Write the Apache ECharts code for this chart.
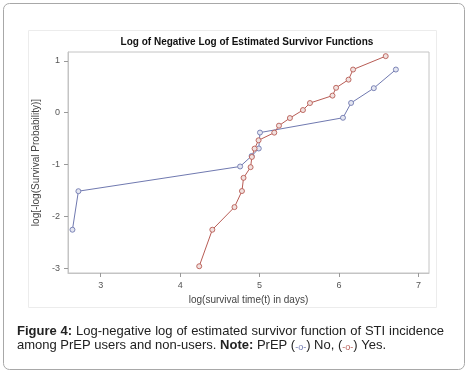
<!DOCTYPE html>
<html>
<head>
<meta charset="utf-8">
<script src="https://cdn.jsdelivr.net/npm/echarts@6/dist/echarts.min.js"></script>
<style>
  html, body { margin: 0; padding: 0; background: #fff; }
  #main { width: 469px; height: 376px; }
</style>
</head>
<body>
<div id="main"></div>
<script>
// PrEP = No (blue)
const noX = [2.644, 2.719, 4.755, 4.900, 4.990, 5.005, 6.050, 6.152, 6.438, 6.716];
const noY = [-2.256, -1.513, -1.037, -0.835, -0.690, -0.383, -0.098, 0.188, 0.473, 0.832];
// PrEP = Yes (red)
const yesX = [4.240, 4.405, 4.684, 4.778, 4.798, 4.887, 4.903, 4.937, 4.987, 5.185,
              5.244, 5.382, 5.546, 5.634, 5.918, 5.963, 6.120, 6.177, 6.588];
const yesY = [-2.960, -2.256, -1.820, -1.510, -1.256, -1.050, -0.853, -0.692, -0.532, -0.385,
              -0.250, -0.103, 0.051, 0.186, 0.329, 0.480, 0.637, 0.832, 1.090];
const xTicks = [3, 4, 5, 6, 7];
const yTicks = [-3, -2, -1, 0, 1];

const chartTitle = 'Log of Negative Log of Estimated Survivor Functions';
const captionLine1 = ['Figure', '4:', 'Log-negative', 'log', 'of', 'estimated', 'survivor', 'function', 'of', 'STI', 'incidence'];
const blue = '#7079b0';
const red = '#b85c55';

const chart = echarts.init(document.getElementById('main'));

// Justify the first caption line by hand
const FONT = 'Liberation Sans, Arial, sans-serif';
const ctx = document.createElement('canvas').getContext('2d');
const capLeft = 17, capRight = 444, capSize = 13;
const wordWidths = captionLine1.map((w, i) => {
  ctx.font = (i < 2 ? 'bold ' : '') + capSize + 'px ' + FONT;
  return ctx.measureText(w).width;
});
const gap = (capRight - capLeft - wordWidths.reduce((a, b) => a + b, 0)) / (captionLine1.length - 1);
const captionWords = [];
let cx = capLeft;
captionLine1.forEach((w, i) => {
  captionWords.push({
    type: 'text', left: cx, top: 325,
    style: { text: w, font: (i < 2 ? 'bold ' : '') + capSize + 'px ' + FONT, fill: '#222' }
  });
  cx += wordWidths[i] + gap;
});

const axisLabelStyle = { color: '#555', fontSize: 9, fontFamily: FONT, margin: 8 };
const axisNameStyle = { color: '#444', fontSize: 10, fontFamily: FONT };

const option = {
  animation: false,
  title: {
    text: chartTitle,
    left: 247, top: 37, padding: 0, textAlign: 'center',
    textStyle: { fontSize: 10, fontWeight: 'bold', color: '#111', fontFamily: FONT }
  },
  grid: {
    left: 68, right: 40, top: 52, bottom: 103,
    show: true, borderColor: '#c4c4c4', borderWidth: 1, backgroundColor: '#fff'
  },
  xAxis: {
    type: 'value', min: 2.588, max: 7.133,
    axisLine: { show: true, onZero: false, lineStyle: { color: '#c4c4c4' } },
    axisTick: { show: true, length: 4, lineStyle: { color: '#999' }, customValues: xTicks },
    axisLabel: Object.assign({}, axisLabelStyle, { customValues: xTicks }),
    splitLine: { show: false },
    name: 'log(survival time(t) in days)',
    nameLocation: 'middle', nameGap: 20, nameTextStyle: axisNameStyle
  },
  yAxis: {
    type: 'value', min: -3.09, max: 1.17,
    axisLine: { show: true, onZero: false, lineStyle: { color: '#c4c4c4' } },
    axisTick: { show: true, length: 4, lineStyle: { color: '#999' }, customValues: yTicks },
    axisLabel: Object.assign({}, axisLabelStyle, { customValues: yTicks }),
    splitLine: { show: false },
    name: 'log[-log(Survival Probability)]',
    nameLocation: 'middle', nameGap: 27, nameTextStyle: axisNameStyle
  },
  series: [
    {
      name: 'No', type: 'line',
      data: noX.map((x, i) => [x, noY[i]]),
      symbol: 'circle', symbolSize: 5,
      lineStyle: { color: blue, width: 1 },
      itemStyle: { color: '#e4e6f1', borderColor: blue, borderWidth: 0.9 }
    },
    {
      name: 'Yes', type: 'line',
      data: yesX.map((x, i) => [x, yesY[i]]),
      symbol: 'circle', symbolSize: 5,
      lineStyle: { color: red, width: 1 },
      itemStyle: { color: '#f1e1df', borderColor: red, borderWidth: 0.9 }
    }
  ],
  graphic: [
    // outer rounded frame
    {
      type: 'rect', shape: { x: 3.5, y: 3.5, width: 461, height: 366, r: 6 },
      style: { fill: 'none', stroke: '#a8a8a8', lineWidth: 1 }, z: -10
    },
    // faint border of the figure image
    {
      type: 'rect', shape: { x: 28.5, y: 30.5, width: 408, height: 277 },
      style: { fill: 'none', stroke: '#ececec', lineWidth: 1 }, z: -10
    },
    ...captionWords,
    {
      type: 'text', left: capLeft, top: 339,
      style: {
        text: '{n|among PrEP users and non-users. }{b|Note:}{n| PrEP (}{sb|-o-}{n|) No, (}{sr|-o-}{n|) Yes.}',
        rich: {
          n: { font: capSize + 'px ' + FONT, fill: '#222' },
          b: { font: 'bold ' + capSize + 'px ' + FONT, fill: '#222' },
          sb: { font: '9px ' + FONT, fill: blue, padding: [5, 0, 0, 0] },
          sr: { font: '9px ' + FONT, fill: red, padding: [5, 0, 0, 0] }
        }
      }
    }
  ]
};

chart.setOption(option);
</script>
</body>
</html>
